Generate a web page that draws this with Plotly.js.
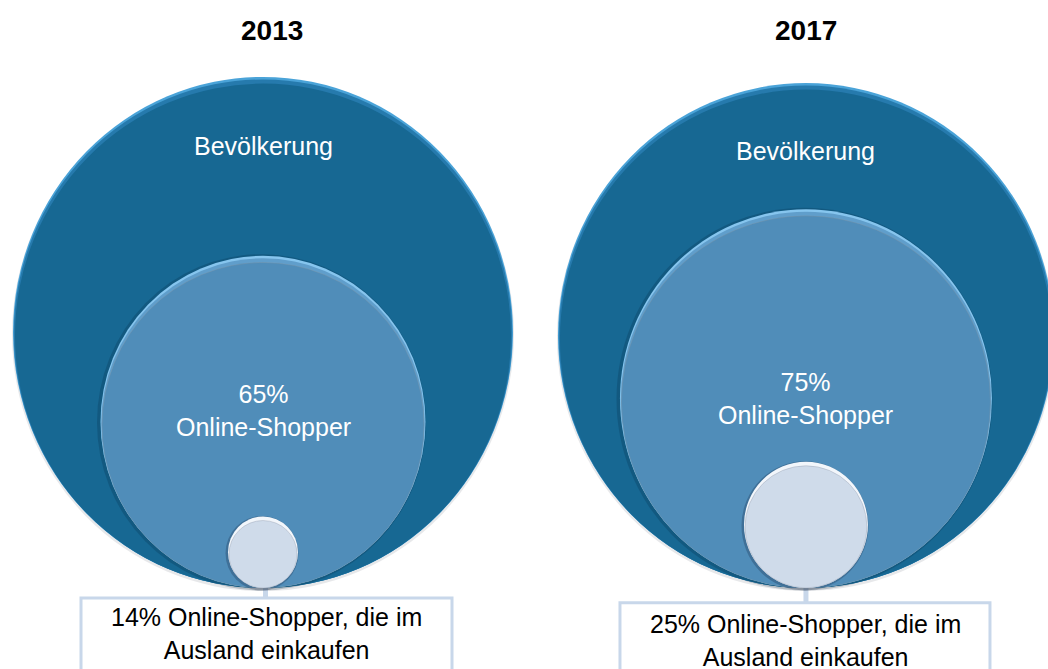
<!DOCTYPE html>
<html>
<head>
<meta charset="utf-8">
<script src="https://cdn.plot.ly/plotly-3.0.1.min.js"></script>
<style>
  html, body { margin: 0; padding: 0; background: #ffffff; }
  #chart { width: 1048px; height: 669px; }
</style>
</head>
<body>
<div id="chart"></div>
<script>
// ---- Data ----
const years = ['2013', '2017'];
const populationLabel = 'Bevölkerung';
const populationShare = [100, 100];
const onlineShare = [65, 75];
const abroadShare = [14, 25];
const onlineLabel = 'Online-Shopper';
const abroadLabel = ['Online-Shopper, die im', 'Ausland einkaufen'];

// ---- Panel layout (positions / styling only) ----
const panels = [
  { xa: 'x',  ya: 'y',  xdom: [0, 0.5], xr: [-1.052, 1.044], yr: [-0.317, 2.301],
    titleX: 0.036, popY: 1.73, innerY: 0.693, boxTop: -0.039, boxX: [-0.728, 0.756],
    boxTextX: 0.012, boxTextY: -0.18 },
  { xa: 'x2', ya: 'y2', xdom: [0.5, 1], xr: [-1.137, 0.976], yr: [-0.321, 2.329],
    titleX: 0.0, popY: 1.73, innerY: 0.749, boxTop: -0.059, boxX: [-0.75, 0.742],
    boxTextX: 0.0, boxTextY: -0.21 }
];

const FONT = 'Liberation Sans, Arial, sans-serif';
const shapes = [];
const annotations = [];
const traces = [];

function circ(p, r, opts) {
  const o = Object.assign({ dx: 0, dy: 0, insetX: 0, insetTop: 0, grow: 0 }, opts);
  shapes.push({
    type: 'circle', xref: p.xa, yref: p.ya, layer: 'above',
    x0: -r - o.grow + o.insetX + o.dx, x1: r + o.grow - o.insetX + o.dx,
    y0: -o.grow + o.dy, y1: 2 * r + o.grow - o.insetTop + o.dy,
    fillcolor: o.fill, line: o.line || { width: 0 }
  });
}

panels.forEach((p, i) => {
  const R = populationShare[i] / 100;
  const rm = onlineShare[i] / 100;
  const rs = abroadShare[i] / 100;

  traces.push({ x: [0], y: [0], xaxis: p.xa, yaxis: p.ya, mode: 'markers',
    marker: { opacity: 0 }, hoverinfo: 'skip', showlegend: false });

  // connector from small circle to box
  shapes.push({ type: 'line', xref: p.xa, yref: p.ya, layer: 'below',
    x0: 0.01 * (i === 0 ? 1 : 0), x1: 0.01 * (i === 0 ? 1 : 0), y0: 0.02, y1: p.boxTop,
    line: { color: '#c8d7ea', width: 5 } });

  // big circle (population)
  circ(p, R, { fill: 'rgba(120,130,140,0.18)', grow: 0.004, dy: -0.008 });
  circ(p, R, { fill: '#4aa3d8' });
  circ(p, R, { fill: '#267aad', insetX: 0.003, insetTop: 0.01 });
  circ(p, R, { fill: '#176893', insetX: 0.008, insetTop: 0.026 });

  // middle circle (online shoppers)
  circ(p, rm, { fill: 'rgba(5,35,65,0.22)', grow: 0.008, dx: -0.006, dy: -0.002 });
  circ(p, rm, { fill: '#86c5ee' });
  circ(p, rm, { fill: '#609ecb', insetX: 0.003, insetTop: 0.01 });
  circ(p, rm, { fill: '#508db9', insetX: 0.006, insetTop: 0.026,
    line: { color: 'rgba(150,150,150,0.25)', width: 1 } });

  // small circle (abroad shoppers)
  circ(p, rs, { fill: 'rgba(20,40,70,0.28)', grow: 0.006, dx: -0.004, dy: -0.004 });
  circ(p, rs, { fill: '#f2f6fb' });
  circ(p, rs, { fill: '#cfdbea', insetX: 0.004, insetTop: 0.016,
    line: { color: 'rgba(140,150,165,0.35)', width: 1 } });

  // text box
  shapes.push({ type: 'rect', xref: p.xa, yref: p.ya, layer: 'above',
    x0: p.boxX[0], x1: p.boxX[1], y0: -1, y1: p.boxTop,
    fillcolor: '#ffffff', line: { color: '#c8d7ea', width: 3 } });

  // texts
  annotations.push({ xref: p.xa, yref: 'paper', x: p.titleX, y: 1 - 30 / 669,
    xanchor: 'center', yanchor: 'middle', showarrow: false,
    text: '<b>' + years[i] + '</b>', font: { family: FONT, size: 28, color: '#000000' } });
  annotations.push({ xref: p.xa, yref: p.ya, x: 0, y: p.popY,
    xanchor: 'center', yanchor: 'middle', showarrow: false,
    text: populationLabel, font: { family: FONT, size: 25, color: '#ffffff' } });
  annotations.push({ xref: p.xa, yref: p.ya, x: 0, y: p.innerY,
    xanchor: 'center', yanchor: 'middle', showarrow: false, align: 'center',
    text: onlineShare[i] + '%<br>' + onlineLabel, font: { family: FONT, size: 25, color: '#ffffff' } });
  annotations.push({ xref: p.xa, yref: p.ya, x: p.boxTextX, y: p.boxTextY,
    xanchor: 'center', yanchor: 'middle', showarrow: false, align: 'center',
    text: abroadShare[i] + '% ' + abroadLabel[0] + '<br>' + abroadLabel[1],
    font: { family: FONT, size: 25, color: '#000000' } });
});

const axisBase = { visible: false, showgrid: false, zeroline: false, fixedrange: true };
const layout = {
  width: 1048, height: 669,
  margin: { l: 0, r: 0, t: 0, b: 0, pad: 0 },
  paper_bgcolor: '#ffffff', plot_bgcolor: 'rgba(0,0,0,0)',
  showlegend: false,
  xaxis:  Object.assign({}, axisBase, { domain: panels[0].xdom, range: panels[0].xr }),
  yaxis:  Object.assign({}, axisBase, { domain: [0, 1], range: panels[0].yr }),
  xaxis2: Object.assign({}, axisBase, { domain: panels[1].xdom, range: panels[1].xr, anchor: 'y2' }),
  yaxis2: Object.assign({}, axisBase, { domain: [0, 1], range: panels[1].yr, anchor: 'x2' }),
  shapes: shapes,
  annotations: annotations
};

Plotly.newPlot('chart', traces, layout, { displayModeBar: false, staticPlot: true });
</script>
</body>
</html>
